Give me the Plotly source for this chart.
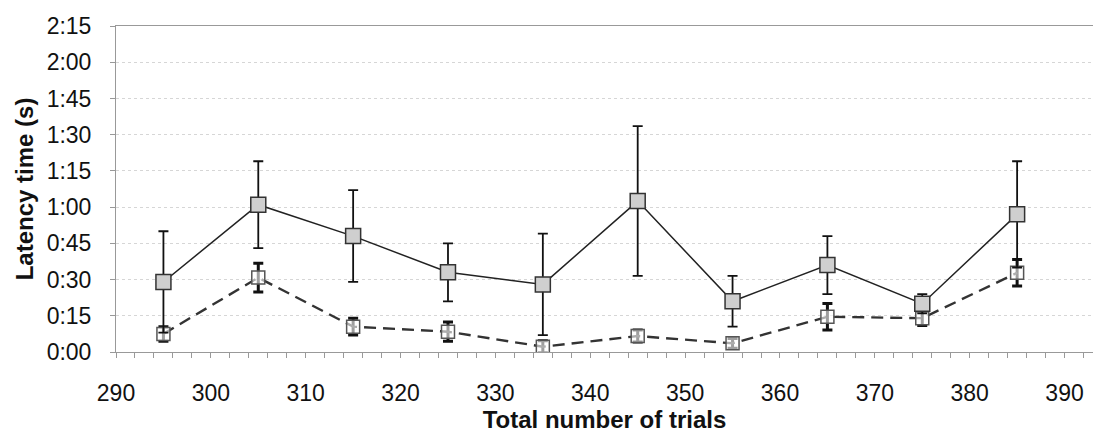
import plotly.graph_objects as go

trials = [295, 305, 315, 325, 335, 345, 355, 365, 375, 385]

# latency in seconds
series_a = [29, 61, 48, 33, 28, 62.5, 21, 36, 20, 57]
series_a_err = [21, 18, 19, 12, 21, 31, 10.5, 12, 4, 22]

series_b = [7.5, 30.8, 10.5, 8.4, 2.2, 6.6, 3.6, 14.6, 14, 32.8]
series_b_err = [3, 6, 3.5, 4, 2.5, 2.5, 2, 5.5, 3, 5.5]

y_tickvals = [0, 15, 30, 45, 60, 75, 90, 105, 120, 135]
y_ticktext = ["0:00", "0:15", "0:30", "0:45", "1:00", "1:15", "1:30", "1:45", "2:00", "2:15"]
x_tickvals = [290, 300, 310, 320, 330, 340, 350, 360, 370, 380, 390]

fig = go.Figure()

fig.add_trace(go.Scatter(
    x=trials, y=series_b,
    mode="lines+markers",
    line=dict(color="#333333", width=2.4, dash="12px,7px"),
    marker=dict(symbol="square", size=13, color="rgba(255,255,255,0.6)", line=dict(color="#555555", width=1.5)),
    error_y=dict(type="data", array=series_b_err, color="#111111", thickness=3, width=5),
    showlegend=False,
))

fig.add_trace(go.Scatter(
    x=trials, y=series_a,
    mode="lines+markers",
    line=dict(color="#222222", width=1.5),
    marker=dict(symbol="square", size=15, color="#cfcfcf", line=dict(color="#333333", width=1.5)),
    error_y=dict(type="data", array=series_a_err, color="#111111", thickness=1.8, width=5),
    showlegend=False,
))

fig.update_layout(
    width=1093, height=438,
    margin=dict(l=116, r=0, t=26, b=86),
    paper_bgcolor="white", plot_bgcolor="white",
    font=dict(family="Liberation Sans, Arial, sans-serif", size=23, color="#111111"),
    xaxis=dict(
        range=[290, 393],
        tickvals=x_tickvals,
        ticks="outside", ticklen=0,
        ticklabelstandoff=20,
        minor=dict(dtick=2, ticks="outside", ticklen=5, tickcolor="#999999"),
        showgrid=False,
        showline=True, linecolor="#999999", linewidth=1, mirror=True,
        zeroline=False,
        tickfont=dict(size=23),
        title=dict(text="<b>Total number of trials</b>", font=dict(size=24), standoff=4),
    ),
    yaxis=dict(
        range=[0, 135],
        tickvals=y_tickvals, ticktext=y_ticktext,
        ticks="outside", ticklen=5, tickcolor="#999999",
        ticklabelstandoff=14,
        showgrid=True, gridcolor="#d6d6d6", griddash="dot", gridwidth=1,
        showline=True, linecolor="#999999", linewidth=1,
        zeroline=False,
        tickfont=dict(size=23),
        title=dict(text="<b>Latency time (s)</b>", font=dict(size=24), standoff=6),
    ),
)

fig.write_html("out.html")
